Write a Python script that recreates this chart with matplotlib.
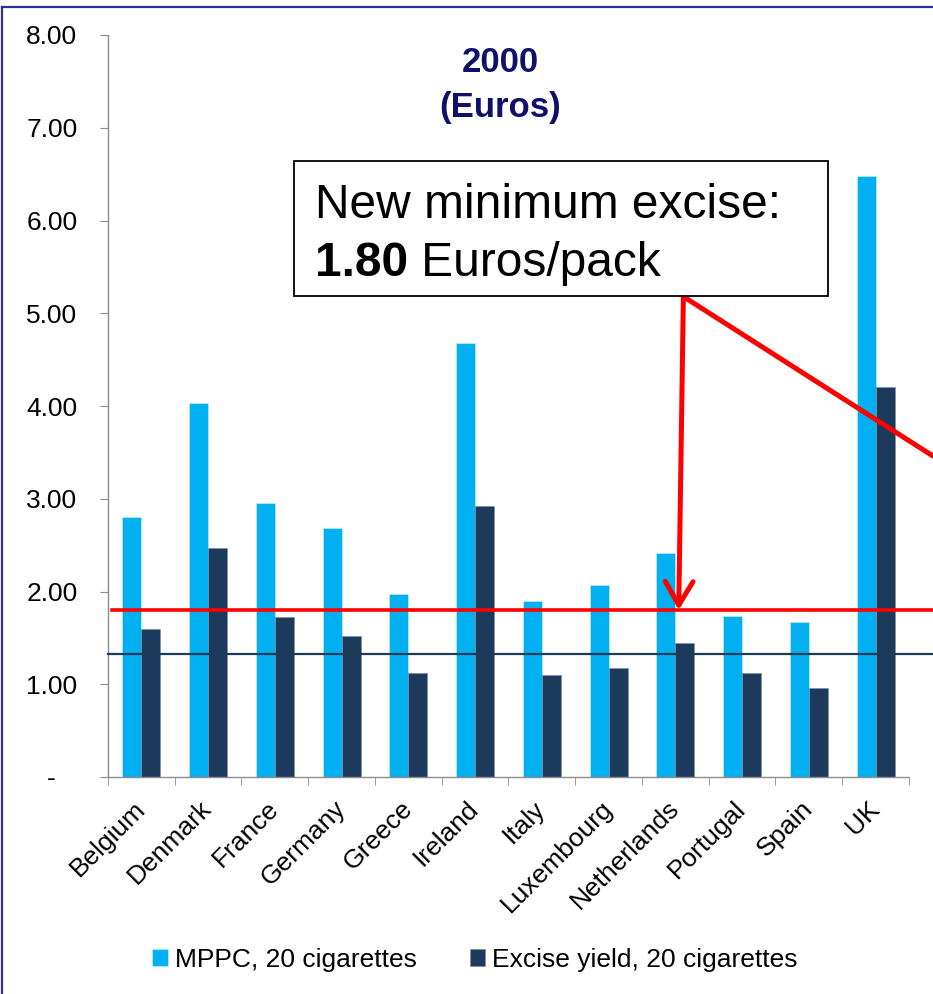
import matplotlib
matplotlib.use("Agg")
import matplotlib.pyplot as plt
import numpy as np
from matplotlib.patches import Rectangle
from matplotlib.lines import Line2D

plt.rcParams["font.family"] = ["Liberation Sans", "DejaVu Sans"]

# ---- data -------------------------------------------------------------
countries = ["Belgium", "Denmark", "France", "Germany", "Greece", "Ireland",
             "Italy", "Luxembourg", "Netherlands", "Portugal", "Spain", "UK"]
mppc = [2.80, 4.03, 2.95, 2.68, 1.97, 4.68, 1.90, 2.07, 2.42, 1.74, 1.67, 6.48]
excise = [1.60, 2.47, 1.72, 1.52, 1.12, 2.92, 1.10, 1.17, 1.44, 1.12, 0.96, 4.20]
new_min_excise = 1.80
reference_level = 1.33
y_ticks = [0, 1, 2, 3, 4, 5, 6, 7, 8]
y_tick_labels = ["-   ", "1.00", "2.00", "3.00", "4.00", "5.00", "6.00", "7.00", "8.00"]
series_names = ["MPPC, 20 cigarettes", "Excise yield, 20 cigarettes"]

# ---- layout helpers (pixel -> figure fraction) -----------------------
W, H = 933, 994
def fx(x):
    return x / W
def fy(y):
    return 1 - y / H

fig = plt.figure(figsize=(W / 100, H / 100), dpi=100)
ax = fig.add_axes([fx(108), fy(777), (909 - 108) / W, (777 - 35) / H])

light = "#00B0F0"
dark = "#1B3A5C"
grey = "#8C8C8C"

x = np.arange(len(countries))
w = 0.285
b1 = ax.bar(x - w / 2, mppc, w, color=light, edgecolor="#CFEFFB", linewidth=0.4, zorder=2)
b2 = ax.bar(x + w / 2, excise, w, color=dark, edgecolor="#7F8FA0", linewidth=0.4, zorder=2)

ax.set_xlim(-0.5, len(countries) - 0.5)
ax.set_ylim(0, 8)

# horizontal reference lines, running past the plot area to the edge
span = (W - 108) / (909 - 108)
ax.axhline(reference_level, xmin=0, xmax=span, color="#1F3A56", lw=1.6,
           clip_on=False, zorder=3)
ax.axhline(new_min_excise, xmin=0.005, xmax=span, color="#FF0000", lw=2.6,
           clip_on=False, zorder=3)

# axes styling
for s in ["top", "right"]:
    ax.spines[s].set_visible(False)
for s in ["left", "bottom"]:
    ax.spines[s].set_color(grey)
    ax.spines[s].set_linewidth(1.0)

ax.set_yticks(y_ticks)
ax.set_yticklabels(y_tick_labels)
ax.tick_params(axis="y", direction="out", length=6, color=grey, pad=16,
               labelsize=19)

ax.set_xticks(x)
ax.set_xticklabels(countries, rotation=45, ha="right", va="center",
                   rotation_mode="anchor")
ax.set_xticks(np.arange(-0.5, len(countries), 1.0), minor=True)
ax.tick_params(axis="x", which="major", length=0, pad=20, labelsize=19)
ax.tick_params(axis="x", which="minor", direction="out", length=6, color=grey)

# callout arrows
ax.annotate("", xy=(8.05, new_min_excise), xytext=(8.12, 5.18),
            arrowprops=dict(arrowstyle="->,head_length=0.85,head_width=0.5",
                            color="#FF0000", lw=3.6, mutation_scale=20,
                            shrinkA=0, shrinkB=0),
            zorder=4, annotation_clip=False)
ax.plot([8.12, 12.6], [5.18, 3.12], color="#FF0000", lw=3.6, clip_on=False,
        zorder=4, solid_capstyle="butt")

# callout box
fig.add_artist(Rectangle((fx(294), fy(296)), (828 - 294) / W, (296 - 161) / H,
                         transform=fig.transFigure, facecolor="white",
                         edgecolor="black", lw=1.3, zorder=1))
fig.text(fx(315), fy(218), "New minimum excise:", fontsize=34.5,
         ha="left", va="baseline", zorder=3)
t_val = fig.text(fx(315), fy(276), f"{new_min_excise:.2f}", fontsize=34.5,
                 fontweight="bold", ha="left", va="baseline", zorder=3)
fig.add_artist(plt.Annotation(" Euros/pack", xy=(1, 0), xycoords=t_val,
                              fontsize=34.5, ha="left", va="bottom", zorder=3))

# title
navy = "#10106B"
fig.text(fx(500), fy(62), "2000", ha="center", va="center", fontsize=25,
         fontweight="bold", color=navy)
fig.text(fx(500), fy(108), "(Euros)", ha="center", va="center", fontsize=25,
         fontweight="bold", color=navy)

# legend
fig.legend([b1, b2], series_names, loc="center",
           bbox_to_anchor=(fx(475), fy(960)), ncol=2, frameon=False,
           fontsize=19, handlelength=0.6, handleheight=0.6,
           handletextpad=0.25, columnspacing=2.0)

# slide frame (left and top edges)
frame = "#2E3192"
fig.add_artist(Line2D([fx(2), fx(2)], [0, fy(6.5)], color=frame, lw=1.6,
                      transform=fig.transFigure))
fig.add_artist(Line2D([fx(2), 1], [fy(6.5), fy(6.5)], color=frame, lw=1.6,
                      transform=fig.transFigure))

fig.savefig("out.png", dpi=100, facecolor="white")
